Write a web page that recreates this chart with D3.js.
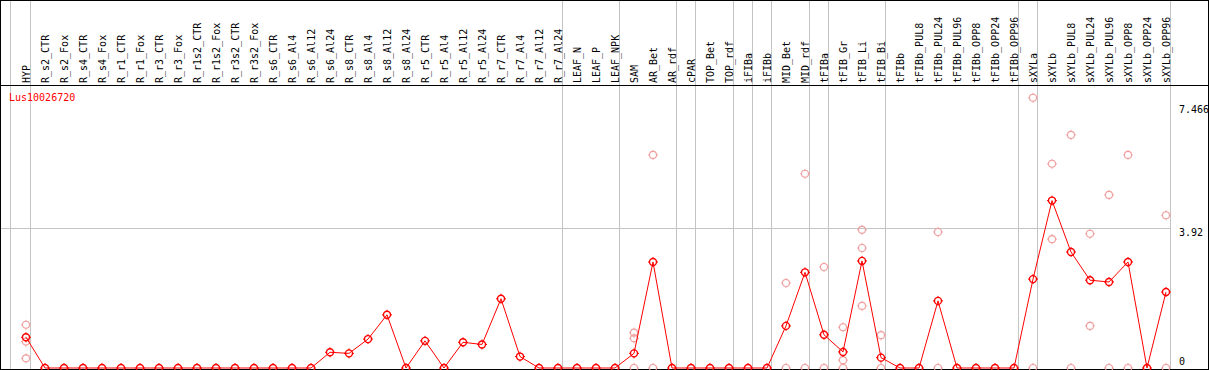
<!DOCTYPE html>
<html>
<head>
<meta charset="utf-8">
<script src="https://cdn.jsdelivr.net/npm/d3@7/dist/d3.min.js"></script>
<style>
  body { margin: 0; background: #fff; }
  text { font-family: "DejaVu Sans Mono", "Liberation Mono", monospace; font-size: 10px; }
</style>
</head>
<body>
<div id="chart-area"></div>
<script>
var geneName = "Lus10026720";

var samples = ["HYP",
  "R_s2_CTR", "R_s2_Fox", "R_s4_CTR", "R_s4_Fox", "R_r1_CTR", "R_r1_Fox", "R_r3_CTR", "R_r3_Fox",
  "R_r1s2_CTR", "R_r1s2_Fox", "R_r3s2_CTR", "R_r3s2_Fox",
  "R_s6_CTR", "R_s6_Al4", "R_s6_Al12", "R_s6_Al24", "R_s8_CTR", "R_s8_Al4", "R_s8_Al12", "R_s8_Al24",
  "R_r5_CTR", "R_r5_Al4", "R_r5_Al12", "R_r5_Al24", "R_r7_CTR", "R_r7_Al4", "R_r7_Al12", "R_r7_Al24",
  "LEAF_N", "LEAF_P", "LEAF_NPK", "SAM", "AR_Bet", "AR_rdf", "cPAR", "TOP_Bet", "TOP_rdf",
  "iFIBa", "iFIBb", "MID_Bet", "MID_rdf", "tFIBa", "tFIB_Gr", "tFIB_Li", "tFIB_Bi",
  "tFIBb", "tFIBb_PUL8", "tFIBb_PUL24", "tFIBb_PUL96", "tFIBb_OPP8", "tFIBb_OPP24", "tFIBb_OPP96",
  "sXYLa", "sXYLb", "sXYLb_PUL8", "sXYLb_PUL24", "sXYLb_PUL96", "sXYLb_OPP8", "sXYLb_OPP24", "sXYLb_OPP96"];

// mean expression per sample
var means = [0.86,
  0, 0, 0, 0, 0, 0, 0, 0,
  0, 0, 0, 0,
  0, 0, 0, 0.44, 0.41, 0.81, 1.49, 0,
  0.76, 0, 0.72, 0.66, 1.94, 0.32, 0, 0,
  0, 0, 0, 0.41, 2.97, 0, 0, 0, 0,
  0, 0, 1.18, 2.68, 0.93, 0.45, 3.00, 0.29,
  0, 0, 1.88, 0, 0, 0, 0,
  2.49, 4.69, 3.25, 2.46, 2.41, 2.97, 0, 2.13];

// individual replicates (only the visible ones)
var reps = [[1.21, 0.74, 0.27],
  [], [], [], [], [], [], [], [],
  [], [], [], [],
  [], [], [], [], [], [], [], [],
  [], [], [], [], [], [], [], [],
  [], [], [], [0.99, 0.83, 0], [5.97, 0], [], [], [], [],
  [], [], [2.38, 0], [5.44, 0], [2.83, 0], [1.14, 0.22, 0], [3.87, 3.36, 1.74], [0.92, 0],
  [], [], [3.81, 0], [], [], [], [],
  [7.57, 0], [5.72, 3.61], [6.53, 0], [3.76, 1.18], [4.85, 0], [5.97, 0], [], [4.28, 0]];

// last sample index of each group
var groupEnds = [0, 28, 31, 34, 35, 37, 38, 39, 41, 42, 45, 52, 53, 60];

var yTicks = [0, 3.92, 7.466];

var width = 1209, height = 370;
var svg = d3.select("#chart-area").append("svg")
    .attr("width", width)
    .attr("height", height);

var x = d3.scalePoint()
    .domain(d3.range(samples.length))
    .range([26, 1166]);
var step = x.step();

var y = d3.scaleLinear()
    .domain([0, 7.466])
    .range([368, 101.5]);

var lineRight = Math.floor(x(samples.length - 1) + 4.7) + 0.5;

// horizontal grid
svg.selectAll("line.hgrid").data(yTicks.filter(d => d > 0 && d < 7.466))
  .enter().append("line")
    .attr("class", "hgrid")
    .attr("x1", 1).attr("x2", lineRight)
    .attr("y1", d => Math.round(y(d)) + 0.5)
    .attr("y2", d => Math.round(y(d)) + 0.5)
    .attr("stroke", "#c4c4c4");

// group separators
var seps = [x(0) - 15.3].concat(groupEnds.map(i => x(i) + 4.7));
svg.selectAll("line.vgrid").data(seps)
  .enter().append("line")
    .attr("class", "vgrid")
    .attr("x1", d => Math.floor(d) + 0.5).attr("x2", d => Math.floor(d) + 0.5)
    .attr("y1", 1).attr("y2", height - 1)
    .attr("stroke", "#c4c4c4");

// frame
svg.append("rect")
    .attr("x", 0.5).attr("y", 0.5)
    .attr("width", width - 1).attr("height", height - 1)
    .attr("fill", "none").attr("stroke", "#000");
svg.append("line")
    .attr("x1", 0).attr("x2", width)
    .attr("y1", 85.5).attr("y2", 85.5)
    .attr("stroke", "#000");

// sample labels
svg.selectAll("text.sample").data(samples)
  .enter().append("text")
    .attr("class", "sample")
    .attr("transform", (d, i) => "translate(" + (x(i) + 3.5) + ",83) rotate(-90)")
    .attr("fill", "#000")
    .text(d => d);

// y labels on the right
svg.selectAll("text.ylab").data(yTicks)
  .enter().append("text")
    .attr("class", "ylab")
    .attr("x", 1179)
    .attr("y", d => d === 0 ? y(d) - 3 : (d === 7.466 ? y(d) + 11.5 : y(d) + 7.5))
    .attr("fill", "#000")
    .text(d => d);

svg.append("text")
    .attr("x", 9).attr("y", 101)
    .attr("fill", "#ff0000")
    .text(geneName);

function marker(r) {
  return "M0," + (-r - 1.5) + "V" + (-r + 0.5) + "M0," + (r - 0.5) + "V" + (r + 1.5) +
         "M" + (-r - 1.5) + ",0H" + (-r + 0.5) + "M" + (r - 0.5) + ",0H" + (r + 1.5);
}

// replicates
var repPts = [];
reps.forEach((arr, i) => arr.forEach(v => repPts.push({i: i, v: v})));
var rg = svg.selectAll("g.rep").data(repPts)
  .enter().append("g")
    .attr("class", "rep")
    .attr("transform", d => "translate(" + x(d.i) + "," + y(d.v) + ")");
rg.append("circle").attr("r", 3.5)
    .attr("fill", "none").attr("stroke", "#f0a0a0").attr("stroke-width", 1.1);
rg.append("path").attr("d", marker(3.5))
    .attr("stroke", "#f0a0a0").attr("stroke-width", 1);

// mean line
var line = d3.line()
    .x((d, i) => x(i))
    .y(d => y(d));
svg.append("path")
    .datum(means)
    .attr("d", line)
    .attr("fill", "none")
    .attr("stroke", "#ff0000")
    .attr("stroke-width", 1);

var mg = svg.selectAll("g.mean").data(means)
  .enter().append("g")
    .attr("class", "mean")
    .attr("transform", (d, i) => "translate(" + x(i) + "," + y(d) + ")");
mg.append("circle").attr("r", 3.5)
    .attr("fill", "none").attr("stroke", "#ff0000").attr("stroke-width", 1.4);
mg.append("path").attr("d", marker(3.5))
    .attr("stroke", "#ff0000").attr("stroke-width", 1);
</script>
</body>
</html>
